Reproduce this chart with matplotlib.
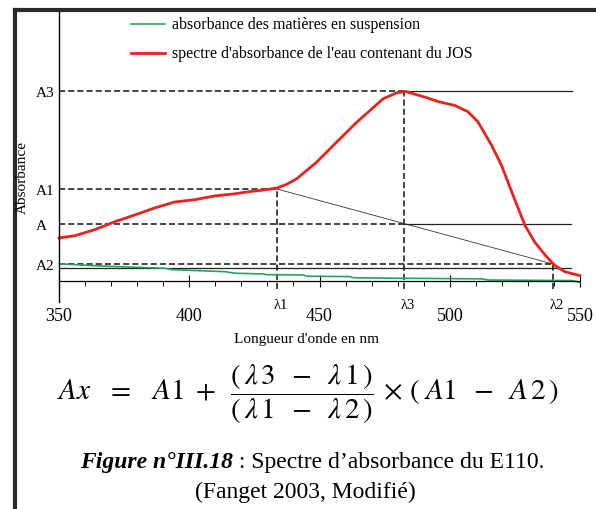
import matplotlib.pyplot as plt
from matplotlib.lines import Line2D

plt.rcParams["font.family"] = ["Liberation Serif", "DejaVu Serif"]
plt.rcParams["mathtext.fontset"] = "stix"

# spectra (wavelength in nm, absorbance in arbitrary units, A3 = 1)
red_nm = [350, 356.1, 363.8, 371.5, 379.2, 386.9, 394.5, 402.2, 409.9, 417.6,
          423.3, 428.0, 433.6, 437.4, 441.2, 448.9, 456.6, 464.3, 469.4, 474.4,
          479.6, 483.0, 490.5, 495.5, 502.0, 507.0, 510.8, 516.1, 519.9, 523.8,
          525.0, 528.9, 532.7, 536.6, 540.4, 544.2, 550]
red_abs = [0.227, 0.239, 0.271, 0.313, 0.349, 0.386, 0.417, 0.429, 0.449, 0.460,
           0.472, 0.479, 0.490, 0.510, 0.539, 0.627, 0.733, 0.838, 0.900, 0.961,
           0.993, 1.000, 0.970, 0.947, 0.926, 0.893, 0.840, 0.715, 0.609, 0.470,
           0.428, 0.292, 0.204, 0.137, 0.081, 0.049, 0.028]

green_nm = [350, 367.7, 390.7, 393.4, 413.7, 417.6, 428.3, 429.8, 443.7, 445.2,
            461.7, 462.9, 484.7, 512.4, 514.7, 546.9, 550]
green_abs = [0.090, 0.078, 0.067, 0.060, 0.049, 0.041, 0.037, 0.033, 0.032, 0.025,
             0.023, 0.017, 0.014, 0.011, 0.005, 0.002, -0.007]

# construction points
lam1, lam3, lam2 = 433.5, 482.5, 539.5
A1, A2, A3 = 0.486, 0.090, 1.0
A = 0.303
base_level = 0.069
line_end = 546.5

xtick_vals = [350, 400, 450, 500, 550]
ytick_vals = [A2, A, A1, A3]
ytick_labels = ["A2", "A", "A1", "A3"]

W, H = 596, 510


def fx(px):
    return px / W


def fy(py):
    return 1 - py / H


fig = plt.figure(figsize=(W / 100, H / 100), dpi=100)
ax = fig.add_axes([fx(59), fy(303), fx(580) - fx(59), fy(11) - fy(303)])
ax.set_xlim(350, 550)
ax.set_ylim(-0.111, 1.43)

ax.spines[["top", "right"]].set_visible(False)
ax.spines["bottom"].set_position(("data", 0))
ax.spines["left"].set_linewidth(1.0)
ax.spines["bottom"].set_linewidth(0.9)

ax.set_xticks(xtick_vals)
ax.set_xticks([v for v in range(360, 550, 10) if v % 50], minor=True)
ax.tick_params(axis="x", which="major", direction="inout", length=8, width=0.8,
               pad=15, labelsize=13)
ax.tick_params(axis="x", which="minor", direction="out", length=3.5, width=0.7)
ax.set_yticks(ytick_vals, ytick_labels)
ax.tick_params(axis="y", length=0, pad=17, labelsize=11)
for lab in ax.get_yticklabels():
    lab.set_horizontalalignment("left")

dash = (0, (4, 2))
kw_dash = dict(color="#111111", lw=1.1, linestyle=dash)
kw_solid = dict(color="#222222", lw=0.9)

# horizontal reference lines
ax.plot([350, lam3], [A3, A3], **kw_dash)
ax.plot([lam3, line_end + 0.5], [A3, A3], **kw_solid)
ax.plot([350, lam1], [A1, A1], **kw_dash)
ax.plot([350, lam3], [A, A], **kw_dash)
ax.plot([lam3, line_end], [A, A], **kw_solid)
ax.plot([350, lam2], [A2, A2], **kw_dash)
ax.plot([350, line_end], [base_level, base_level], **kw_solid)

# verticals
for lam, lev in [(lam1, A1), (lam3, A3), (lam2, A2)]:
    ax.plot([lam, lam], [-0.045, lev], **kw_dash)

# chord A1 -> A2
ax.plot([lam1, lam2], [A1, A2], color="#333333", lw=0.6)

ax.plot(green_nm, green_abs, color="#25a35a", lw=1.2, clip_on=False)
ax.plot(red_nm, red_abs, color="#e8231f", lw=2.0, clip_on=False)

for lam, name in [(lam1, "λ1"), (lam3, "λ3"), (lam2, "λ2")]:
    ax.text(lam + 1.5, -0.01, name, transform=ax.get_xaxis_transform(),
            ha="center", va="center", fontsize=10.5)

# legend
fig.add_artist(Line2D([fx(131), fx(165)], [fy(25), fy(25)], color="#25a35a", lw=1.2))
fig.add_artist(Line2D([fx(131), fx(165)], [fy(54), fy(54)], color="#e8231f", lw=2.0))
fig.text(fx(172), fy(25), "absorbance des matières en suspension",
         fontsize=11.5, va="center")
fig.text(fx(172), fy(54), "spectre d'absorbance de l'eau contenant du JOS",
         fontsize=11.5, va="center")

fig.text(fx(22), fy(178), "Absorbance", rotation=90, fontsize=11,
         ha="center", va="center")
fig.text(fx(307), fy(340), "Longueur d'onde en nm", fontsize=11,
         ha="center", va="center")

# page frame
fig.add_artist(Line2D([fx(15), fx(15)], [fy(11), 0], color="#2a2a2a", lw=3))
fig.add_artist(Line2D([fx(15), 1], [fy(11), fy(11)], color="#2a2a2a", lw=3))

fig.text(fx(308), fy(394),
         r"$Ax\;\;\;=\;\;\;A1\;+\;\;\dfrac{(\,\lambda\,3\;\;-\;\;\lambda\,1\,)}"
         r"{(\,\lambda\,1\;\;-\;\;\lambda\,2\,)}\,\times\,(\;A1\;\;-\;\;A\,2\,)$",
         fontsize=21, ha="center", va="center")

# caption, bold italic part followed by regular part
cap1 = fig.text(0, fy(463), "Figure n°III.18", fontsize=17, weight="bold",
                style="italic", va="center")
cap2 = fig.text(0, fy(463), " : Spectre d’absorbance du E110.", fontsize=17,
                va="center")
renderer = fig.canvas.get_renderer()
w1 = cap1.get_window_extent(renderer).width
w2 = cap2.get_window_extent(renderer).width
start = 312 - (w1 + w2) / 2
cap1.set_x(fx(start))
cap2.set_x(fx(start + w1))
fig.text(fx(305), fy(492), "(Fanget 2003, Modifié)", fontsize=17,
         ha="center", va="center")

fig.savefig("out.png", dpi=100)
